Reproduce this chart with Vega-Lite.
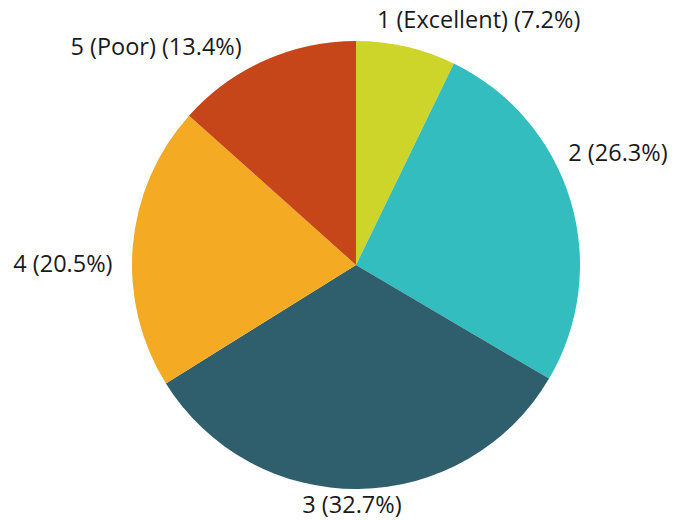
{
  "$schema": "https://vega.github.io/schema/vega-lite/v6.json",
  "autosize": "none",
  "width": 634,
  "height": 510,
  "padding": {"left": 39, "right": 0, "top": 10, "bottom": 0},
  "background": "white",
  "view": {"stroke": null},
  "data": {
    "values": [
      {"rank": 1, "category": "1 (Excellent)", "pct": 7.2, "label": "1 (Excellent) (7.2%)"},
      {"rank": 2, "category": "2", "pct": 26.3, "label": "2 (26.3%)"},
      {"rank": 3, "category": "3", "pct": 32.7, "label": "3 (32.7%)"},
      {"rank": 4, "category": "4", "pct": 20.5, "label": "4 (20.5%)"},
      {"rank": 5, "category": "5 (Poor)", "pct": 13.4, "label": "5 (Poor) (13.4%)"}
    ]
  },
  "encoding": {
    "theta": {"field": "pct", "type": "quantitative", "stack": true},
    "order": {"field": "rank", "type": "quantitative"}
  },
  "layer": [
    {
      "mark": {"type": "arc", "radius": 224},
      "encoding": {
        "color": {
          "field": "category",
          "type": "nominal",
          "scale": {
            "domain": ["1 (Excellent)", "2", "3", "4", "5 (Poor)"],
            "range": ["#cdd52b", "#33bdbf", "#2f5f6c", "#f4aa22", "#c6461a"]
          },
          "legend": null
        }
      }
    },
    {
      "mark": {"type": "text", "radius": 235, "dx": 70, "dy": -15, "font": "Open Sans", "fontSize": 23.5, "color": "#1a1a1a", "align": "center", "baseline": "middle"},
      "encoding": {"text": {"condition": {"test": "datum.rank == 1", "field": "label"}, "value": ""}}
    },
    {
      "mark": {"type": "text", "radius": 235, "dx": 37, "dy": -43, "font": "Open Sans", "fontSize": 23.5, "color": "#1a1a1a", "align": "center", "baseline": "middle"},
      "encoding": {"text": {"condition": {"test": "datum.rank == 2", "field": "label"}, "value": ""}}
    },
    {
      "mark": {"type": "text", "radius": 235, "dx": -7, "dy": 6, "font": "Open Sans", "fontSize": 23.5, "color": "#1a1a1a", "align": "center", "baseline": "middle"},
      "encoding": {"text": {"condition": {"test": "datum.rank == 3", "field": "label"}, "value": ""}}
    },
    {
      "mark": {"type": "text", "radius": 235, "dx": -59, "dy": 20, "font": "Open Sans", "fontSize": 23.5, "color": "#1a1a1a", "align": "center", "baseline": "middle"},
      "encoding": {"text": {"condition": {"test": "datum.rank == 4", "field": "label"}, "value": ""}}
    },
    {
      "mark": {"type": "text", "radius": 235, "dx": -104, "dy": -2, "font": "Open Sans", "fontSize": 23.5, "color": "#1a1a1a", "align": "center", "baseline": "middle"},
      "encoding": {"text": {"condition": {"test": "datum.rank == 5", "field": "label"}, "value": ""}}
    }
  ]
}
